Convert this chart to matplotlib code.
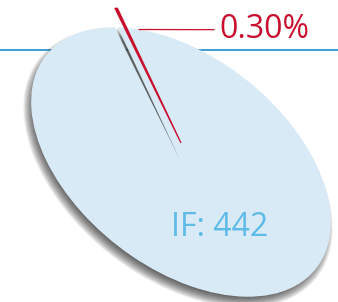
import numpy as np
import matplotlib
matplotlib.use('Agg')
import matplotlib.pyplot as plt
from matplotlib.transforms import Affine2D
from matplotlib.patches import Ellipse, Wedge

# data
categories = ['IF', 'Rest']
shares = [0.30, 99.70]
share_label = '0.30%'
if_label = 'IF: 442'

red = '#c8102e'
pie_blue = '#d8eaf6'
text_blue = '#5ebae6'
line_blue = '#0a84c6'

fig = plt.figure(figsize=(3.38, 3.02), dpi=100)
ax = fig.add_axes([0, 0, 1, 1])

wedges, _ = ax.pie(shares, startangle=218.1, colors=[red, pie_blue],
                   wedgeprops=dict(linewidth=0))

ax.set_aspect('auto')
ax.set_xlim(0, 338)
ax.set_ylim(302, 0)
ax.axis('off')

# tilted ellipse the pie is drawn on (pixel units, y down)
cx, cy, ra, rb, tilt = 181, 162, 172, 105, 38.3
shape = Affine2D().scale(ra, rb).rotate_deg(tilt).translate(cx, cy)

# soft drop shadow under the pie
for s in np.linspace(-6, 5, 12):
    sh = Affine2D().scale(ra + s, rb + s).rotate_deg(tilt).translate(cx - 3, cy + 6)
    e = Ellipse((0, 0), 2, 2, color='black', alpha=0.07, lw=0, zorder=1)
    e.set_transform(sh + ax.transData)
    ax.add_patch(e)

# horizontal rule behind the pie
ax.axhline(50, color=line_blue, lw=1.1, zorder=0.5)

big = wedges[1]
big.set_transform(shape + ax.transData)
big.set_zorder(3)

small = wedges[0]
t1, t2 = small.theta1 - 0.25, small.theta2 + 0.25

# shadow of the lifted slice, left in the slot (fades at both ends)
rings = np.linspace(0.1, 0.95, 18)
for r_in, r_out in zip(rings[:-1], rings[1:]):
    rm = (r_in + r_out) / 2
    a = 0.55 * min(1, (rm - 0.1) / 0.35) * min(1, (0.95 - rm) / 0.12)
    seg = Wedge((0, 0), r_out, t1, t2, width=r_out - r_in,
                color='#555555', alpha=a, lw=0, zorder=4)
    seg.set_transform(shape + ax.transData)
    ax.add_patch(seg)

small.set_transform(shape + Affine2D().translate(0, -19) + ax.transData)
small.set_edgecolor(red)
small.set_linewidth(0.9)
small.set_zorder(5)

ax.annotate(share_label, xy=(139, 29.5), xytext=(219, 38.3), color=red,
            fontsize=23, family='Open Sans', ha='left', va='baseline',
            zorder=6,
            arrowprops=dict(arrowstyle='-', color=red, lw=0.9,
                            shrinkA=1.5, shrinkB=0))

ax.text(220, 235.7, if_label, color=text_blue, fontsize=23, family='Open Sans',
        ha='center', va='baseline', zorder=6)

fig.savefig('out.png', dpi=100)
